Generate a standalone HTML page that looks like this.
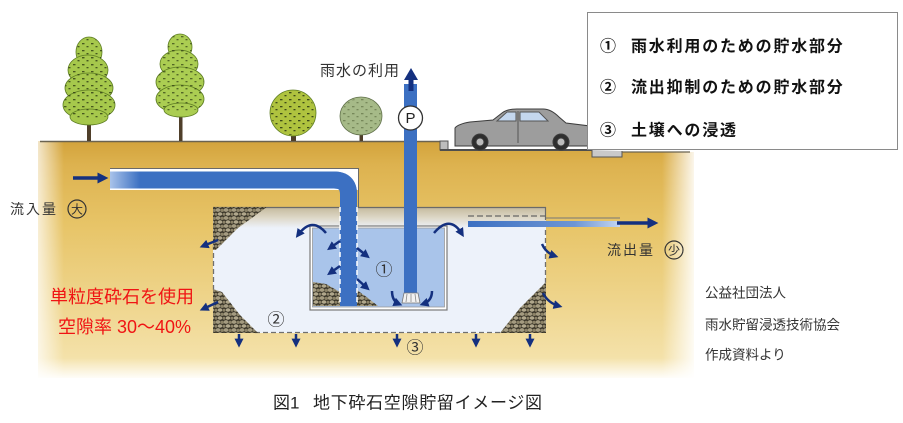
<!DOCTYPE html>
<html><head><meta charset="utf-8">
<style>
html,body{margin:0;padding:0;background:#fff;}
body{width:903px;height:423px;overflow:hidden;}
svg{display:block;font-family:"Liberation Sans","Noto Sans CJK JP",sans-serif;}
</style></head><body>
<svg width="903" height="423" viewBox="0 0 903 423" xmlns="http://www.w3.org/2000/svg">
<defs>
  <linearGradient id="soil" x1="0" y1="141" x2="0" y2="378" gradientUnits="userSpaceOnUse">
    <stop offset="0" stop-color="#d3a33b"/>
    <stop offset="0.1" stop-color="#ddb24f"/>
    <stop offset="0.35" stop-color="#e7c467"/>
    <stop offset="0.7" stop-color="#efd68f"/>
    <stop offset="1" stop-color="#f6e6b4"/>
  </linearGradient>
  <linearGradient id="fadeL" x1="0" y1="0" x2="1" y2="0">
    <stop offset="0" stop-color="#fff" stop-opacity="1"/>
    <stop offset="1" stop-color="#fff" stop-opacity="0"/>
  </linearGradient>
  <linearGradient id="fadeR" x1="0" y1="0" x2="1" y2="0">
    <stop offset="0" stop-color="#fff" stop-opacity="0"/>
    <stop offset="1" stop-color="#fff" stop-opacity="1"/>
  </linearGradient>
  <linearGradient id="fadeB" x1="0" y1="0" x2="0" y2="1">
    <stop offset="0" stop-color="#fff" stop-opacity="0"/>
    <stop offset="1" stop-color="#fff" stop-opacity="1"/>
  </linearGradient>
  <linearGradient id="band" x1="0" y1="207" x2="0" y2="228" gradientUnits="userSpaceOnUse">
    <stop offset="0" stop-color="#c4b99c"/>
    <stop offset="0.5" stop-color="#ddd7c6"/>
    <stop offset="1" stop-color="#edf2fa"/>
  </linearGradient>
  <linearGradient id="pipeIn" x1="110" y1="0" x2="140" y2="0" gradientUnits="userSpaceOnUse">
    <stop offset="0" stop-color="#a9c3ea"/>
    <stop offset="1" stop-color="#3c70c2"/>
  </linearGradient>
  <linearGradient id="pipeOut" x1="468" y1="0" x2="620" y2="0" gradientUnits="userSpaceOnUse">
    <stop offset="0" stop-color="#3c70c2"/>
    <stop offset="0.7" stop-color="#6d95d4"/>
    <stop offset="1" stop-color="#c5d6f0"/>
  </linearGradient>
  <pattern id="gr" width="8" height="8" patternUnits="userSpaceOnUse">
    <rect width="8" height="8" fill="#3a3629"/>
    <ellipse cx="2" cy="2" rx="2.3" ry="1.9" fill="#a49b80"/>
    <ellipse cx="6.2" cy="2.4" rx="1.8" ry="1.6" fill="#8c8368"/>
    <ellipse cx="4" cy="6" rx="2.3" ry="1.8" fill="#b0a78c"/>
    <ellipse cx="0" cy="6.2" rx="1.4" ry="1.5" fill="#8c8368"/>
    <ellipse cx="8" cy="6.2" rx="1.4" ry="1.5" fill="#8c8368"/>
  </pattern>
  <pattern id="leaf" width="9" height="7" patternUnits="userSpaceOnUse">
    <rect x="1" y="1" width="2.5" height="1.3" fill="#2f3c14"/>
    <rect x="5.5" y="4" width="2" height="1.3" fill="#2f3c14"/>
  </pattern>
  <marker id="ah" viewBox="0 0 10 10" refX="6" refY="5" markerWidth="9" markerHeight="9" markerUnits="userSpaceOnUse" orient="auto">
    <path d="M0,0 L10,5 L0,10 z" fill="#14307f"/>
  </marker>
  <marker id="ahb" viewBox="0 0 10 10" refX="6" refY="5" markerWidth="11" markerHeight="11" markerUnits="userSpaceOnUse" orient="auto">
    <path d="M0,0 L10,5 L0,10 z" fill="#14307f"/>
  </marker>
</defs>

<!-- soil -->
<path d="M38,141 H448 V150 H592 V157 H622 V152 H694 V378 H38 Z" fill="url(#soil)"/>
<rect x="28" y="141" width="36" height="240" fill="url(#fadeL)"/>
<rect x="662" y="150" width="36" height="230" fill="url(#fadeR)"/>
<rect x="28" y="358" width="672" height="22" fill="url(#fadeB)"/>
<!-- ground line -->
<line x1="40" y1="141.5" x2="440" y2="141.5" stroke="#6b6350" stroke-width="1.5"/>
<!-- curb, road, gutter -->
<rect x="440" y="141" width="8" height="9" fill="#bdbdbd" stroke="#555" stroke-width="1"/>
<line x1="440" y1="150" x2="592" y2="150" stroke="#4e4e4e" stroke-width="2"/>
<path d="M592,150 V157 H622 V151" fill="#c9c9c9" stroke="#555" stroke-width="1"/>
<line x1="622" y1="152" x2="690" y2="152" stroke="#6b6350" stroke-width="1.2"/>

<!-- trees -->
<g stroke="#5d7d22" stroke-width="0.8">
  <rect x="87" y="116" width="4" height="25" fill="#4f3f2a" stroke="none"/>
  <g fill="#a6c84c">
    <ellipse cx="89" cy="52" rx="13" ry="15"/>
    <ellipse cx="88" cy="70" rx="20" ry="15"/>
    <ellipse cx="89" cy="88" rx="24" ry="15"/>
    <ellipse cx="89" cy="105" rx="26" ry="15"/>
    <ellipse cx="89" cy="117" rx="19" ry="8"/>
  </g>
  <g fill="url(#leaf)" stroke="none" opacity="0.8">
    <ellipse cx="89" cy="52" rx="13" ry="15"/>
    <ellipse cx="88" cy="70" rx="20" ry="15"/>
    <ellipse cx="89" cy="88" rx="24" ry="15"/>
    <ellipse cx="89" cy="105" rx="26" ry="15"/>
  </g>
  <rect x="179" y="108" width="3.5" height="33" fill="#4f3f2a" stroke="none"/>
  <g fill="#abcd52">
    <ellipse cx="180" cy="47" rx="12" ry="13"/>
    <ellipse cx="179" cy="64" rx="19" ry="14"/>
    <ellipse cx="180" cy="82" rx="24" ry="15"/>
    <ellipse cx="180" cy="99" rx="24" ry="14"/>
    <ellipse cx="181" cy="110" rx="17" ry="7"/>
  </g>
  <g fill="url(#leaf)" stroke="none" opacity="0.7">
    <ellipse cx="180" cy="47" rx="12" ry="13"/>
    <ellipse cx="179" cy="64" rx="19" ry="14"/>
    <ellipse cx="180" cy="82" rx="24" ry="15"/>
    <ellipse cx="180" cy="99" rx="24" ry="14"/>
  </g>
  <rect x="291" y="128" width="5" height="13" fill="#4f3f2a" stroke="none"/>
  <circle cx="293" cy="113" r="23" fill="#afc33f"/>
  <circle cx="293" cy="113" r="22" fill="url(#leaf)" stroke="none" opacity="0.9"/>
  <rect x="359.5" y="128" width="3.5" height="13" fill="#4f3f2a" stroke="none"/>
  <ellipse cx="361" cy="116" rx="21" ry="19" fill="#a6ba88" stroke="#60704a"/>
  <ellipse cx="361" cy="116" rx="20" ry="18" fill="url(#leaf)" stroke="none" opacity="0.4"/>
</g>

<!-- car -->
<g stroke="#3c3c3c" stroke-width="1">
  <path d="M455,144 L455,128 Q458,124 470,122 L493,120 L502,113 Q507,109 517,109 L543,109 Q551,109 559,117 L566,123 L590,126 L590,146 L455,146 Z" fill="#9d9d9d"/>
  <path d="M497,121 L507,112 L516,112 L516,121 Z" fill="#c4d7ee" stroke="#555"/>
  <path d="M520,112 L539,112 L548,121 L520,121 Z" fill="#c4d7ee" stroke="#555"/>
  <line x1="518" y1="111" x2="518" y2="143" stroke="#555"/>
  <circle cx="480" cy="142" r="8" fill="#2e2e2e"/>
  <circle cx="480" cy="142" r="4" fill="#bcbcbc"/>
  <circle cx="561" cy="142" r="8" fill="#2e2e2e"/>
  <circle cx="561" cy="142" r="4" fill="#bcbcbc"/>
</g>

<!-- inlet pipe trench -->
<rect x="110" y="168" width="249" height="22" fill="#fff"/>
<path d="M110,168.5 H358.5 V207" fill="none" stroke="#6a6a6a" stroke-width="1"/>

<!-- storage -->
<rect x="213" y="207" width="333" height="126" fill="#edf2fa"/>
<rect x="213" y="207" width="333" height="21" fill="url(#band)"/>
<line x1="213" y1="207.5" x2="546" y2="207.5" stroke="#6a6a6a" stroke-width="1.2"/>
<!-- dashed outlines -->
<g stroke="#6f6f6f" stroke-width="1.3" stroke-dasharray="5,3" fill="none">
  <line x1="213.5" y1="245" x2="213.5" y2="292"/>
  <line x1="255" y1="332.5" x2="502" y2="332.5"/>
  <line x1="545.5" y1="222" x2="545.5" y2="286"/>
</g>
<line x1="545.5" y1="207" x2="545.5" y2="220" stroke="#6a6a6a" stroke-width="1.2"/>
<!-- gravel -->
<polygon points="213,207 267,207 238,228 216,250 213,250" fill="url(#gr)"/>
<polygon points="213,289 222,292 240,315 258,333 213,333" fill="url(#gr)"/>
<polygon points="546,282 546,333 500,333 520,308" fill="url(#gr)"/>

<!-- tank -->
<rect x="310" y="226" width="137" height="84" fill="#fff" stroke="#7a7a7a" stroke-width="1.2"/>
<rect x="312.5" y="228" width="132" height="79" fill="#a9c4ea" stroke="#9a9a9a" stroke-width="0.8"/>
<polygon points="313,282 326,284 340,292 340,306 313,306" fill="url(#gr)"/>
<polygon points="357,290 368,298 378,306 357,306" fill="url(#gr)"/>

<!-- inlet pipe -->
<path d="M110,180 H334 Q348.5,180 348.5,194 V306" fill="none" stroke="url(#pipeIn)" stroke-width="17"/>
<path d="M140,180 H334 Q348.5,180 348.5,194 V306" fill="none" stroke="#3c70c2" stroke-width="17"/>
<g stroke="#fff" stroke-width="1.5" stroke-dasharray="5,4">
  <line x1="340" y1="207" x2="340" y2="306"/>
  <line x1="357" y1="207" x2="357" y2="306"/>
</g>

<!-- pump pipe -->
<rect x="404" y="84" width="13" height="209" fill="#3c70c2"/>
<rect x="408.5" y="78" width="5" height="13" fill="#14307f"/>
<polygon points="404,80 418,80 411,68" fill="#14307f"/>
<circle cx="410.5" cy="118" r="12" fill="#fff" stroke="#333" stroke-width="1.3"/>
<text x="410.5" y="118.5" font-size="15" fill="#222" text-anchor="middle" dominant-baseline="central">P</text>
<path d="M404,293 H418 L420,303 H402 Z" fill="#f2f2f2" stroke="#777" stroke-width="0.8"/>
<g stroke="#888" stroke-width="0.8"><line x1="407" y1="294" x2="406" y2="302"/><line x1="411" y1="294" x2="411" y2="302"/><line x1="415" y1="294" x2="416" y2="302"/></g>

<!-- outlet pipe -->
<line x1="468" y1="216" x2="546" y2="216" stroke="#666" stroke-width="1.3" stroke-dasharray="6,3"/>
<line x1="546" y1="218" x2="620" y2="218" stroke="#777" stroke-width="1"/>
<rect x="468" y="221" width="152" height="6" fill="url(#pipeOut)"/>

<!-- arrows -->
<g stroke="#14307f" fill="none">
  <line x1="73" y1="178" x2="104" y2="178" stroke-width="3.5" marker-end="url(#ahb)"/>
  <line x1="617" y1="223" x2="654" y2="223" stroke-width="3.5" marker-end="url(#ahb)"/>
  <g stroke-width="2.5" marker-end="url(#ah)">
    <line x1="239" y1="334" x2="239" y2="344"/>
    <line x1="296" y1="334" x2="296" y2="344"/>
    <line x1="397" y1="334" x2="397" y2="344"/>
    <line x1="476" y1="334" x2="476" y2="344"/>
    <line x1="530" y1="334" x2="530" y2="344"/>
    <path d="M218,240 L203,246"/>
    <path d="M218,302 L203,309"/>
    <path d="M542,244 Q546,253 555,256"/>
    <path d="M543,293 Q548,303 559,306"/>
    <path d="M326,233 Q312,216 298,235"/>
    <path d="M434,233 Q450,214 462,234"/>
    <path d="M340,241 L330,248"/>
    <path d="M340,266 L330,273"/>
    <path d="M357,248 L367,256"/>
    <path d="M357,279 L367,288"/>
    <path d="M392,291 Q392,301 399,304"/>
    <path d="M432,291 Q432,301 423,304"/>
  </g>
</g>

<!-- circled numbers -->
<g fill="#333" font-size="17" text-anchor="middle" dominant-baseline="central">
  <text x="384" y="270">①</text>
  <text x="276" y="320">②</text>
  <text x="415" y="348">③</text>
</g>

<!-- labels -->
<text x="320" y="71" font-size="15" letter-spacing="1" fill="#333" dominant-baseline="central">雨水の利用</text>
<text x="10" y="209" font-size="14" letter-spacing="2" fill="#333" dominant-baseline="central">流入量</text>
<circle cx="77" cy="209" r="9" fill="none" stroke="#333" stroke-width="1.2"/>
<text x="77" y="209.5" font-size="12" fill="#333" text-anchor="middle" dominant-baseline="central">大</text>
<text x="607" y="250" font-size="14" letter-spacing="2" fill="#333" dominant-baseline="central">流出量</text>
<circle cx="674" cy="250" r="9" fill="none" stroke="#333" stroke-width="1.2"/>
<text x="674" y="250.5" font-size="12" fill="#333" text-anchor="middle" dominant-baseline="central">少</text>

<g fill="#f01414" font-size="18" dominant-baseline="central">
  <text x="50" y="297">単粒度砕石を使用</text>
  <text x="58" y="327">空隙率 30～40%</text>
</g>

<g fill="#333" font-size="13.5" dominant-baseline="central">
  <text x="705" y="293">公益社団法人</text>
  <text x="705" y="325">雨水貯留浸透技術協会</text>
  <text x="705" y="355">作成資料より</text>
</g>

<!-- legend -->
<rect x="587.5" y="12.5" width="310" height="137" fill="#fff" stroke="#8a8a8a" stroke-width="1"/>
<g fill="#111" font-size="16" font-weight="bold" dominant-baseline="central">
  <text x="600" y="47">①</text>
  <text x="631" y="47" letter-spacing="1.8">雨水利用のための貯水部分</text>
  <text x="600" y="88">②</text>
  <text x="631" y="88" letter-spacing="1.8">流出抑制のための貯水部分</text>
  <text x="600" y="131">③</text>
  <text x="631" y="131" letter-spacing="1.8">土壌への浸透</text>
</g>

<!-- caption -->
<g fill="#222" font-size="17" dominant-baseline="central">
  <text x="273" y="403">図1</text>
  <text x="313" y="403" letter-spacing="0.7">地下砕石空隙貯留イメージ図</text>
</g>
</svg>
</body></html>
